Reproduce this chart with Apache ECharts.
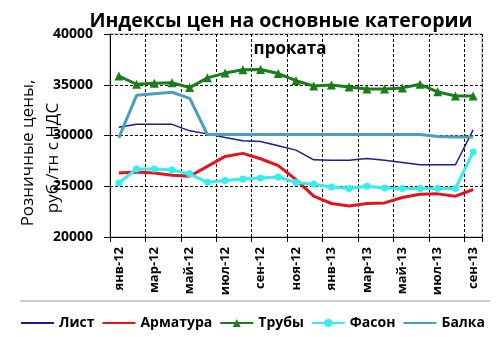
<!DOCTYPE html>
<html>
<head>
<meta charset="utf-8">
<script src="https://cdn.jsdelivr.net/npm/echarts@6/dist/echarts.min.js"></script>
<style>
  html, body { margin: 0; padding: 0; background: #fff; }
  #chart { width: 500px; height: 337px; }
</style>
</head>
<body>
<div id="chart"></div>
<script>
// Months, Jan 2012 – Sep 2013
const months = ['янв-12','фев-12','мар-12','апр-12','май-12','июн-12','июл-12','авг-12','сен-12','окт-12','ноя-12','дек-12',
                'янв-13','фев-13','мар-13','апр-13','май-13','июн-13','июл-13','авг-13','сен-13'];

// Retail prices, rub/t incl. VAT
const list     = [30820,31100,31100,31100,30460,30160,29800,29480,29410,28990,28560,27600,27550,27550,27740,27560,27350,27120,27120,27120,30560];
const armatura = [26310,26410,26310,26080,25980,26960,27940,28240,27710,27030,25650,24020,23300,23060,23300,23360,23890,24220,24250,24020,24680];
const truby    = [35850,35050,35150,35200,34720,35680,36150,36470,36500,36100,35400,34880,34980,34780,34580,34580,34690,35040,34300,33900,33900];
const fason    = [25330,26700,26700,26600,26220,25390,25560,25720,25820,25900,25380,25200,24920,24770,24990,24830,24770,24770,24770,24770,28370];
const balka    = [29760,33960,34120,34260,33660,30100,30100,30100,30100,30100,30100,30100,30100,30100,30100,30100,30100,30100,29900,29840,29840];

const yTicks = { min: 20000, max: 40000, interval: 5000 };

const FONT = '"Open Sans", "Noto Sans", sans-serif';
const chart = echarts.init(document.getElementById('chart'), null, { renderer: 'canvas' });

const dashed = { color: '#000', width: 1, type: [3, 2] };
const hideSymbol = { opacity: 0 };

chart.setOption({
  animation: false,
  backgroundColor: '#fff',
  textStyle: { fontFamily: FONT },
  title: [
    { text: 'Индексы цен на основные категории', left: 276, top: 6, textAlign: 'center',
      textStyle: { fontFamily: FONT, fontSize: 19.5, fontWeight: 'bold', color: '#000' } },
    { text: 'проката', left: 285, top: 36, textAlign: 'center',
      textStyle: { fontFamily: FONT, fontSize: 17, fontWeight: 'bold', color: '#000' } }
  ],
  grid: { left: 110, right: 18, top: 34, bottom: 100, show: true, borderColor: '#999', borderWidth: 1, backgroundColor: 'transparent' },
  legend: {
    top: 311, left: 15, itemWidth: 33, itemHeight: 10, itemGap: 7,
    textStyle: { fontFamily: FONT, fontSize: 14, fontWeight: 'bold', color: '#000' },
    data: [
      { name: 'Лист', itemStyle: hideSymbol },
      { name: 'Арматура', itemStyle: hideSymbol },
      { name: 'Трубы' },
      { name: 'Фасон' },
      { name: 'Балка', itemStyle: hideSymbol }
    ]
  },
  xAxis: {
    type: 'category', data: months, boundaryGap: true,
    axisLine: { lineStyle: { color: '#000', width: 1 } },
    axisTick: { show: true, interval: 1, length: 5, lineStyle: { color: '#000' } },
    axisLabel: { interval: 1, rotate: 90, margin: 10, fontFamily: FONT, fontSize: 13, fontWeight: 'bold', color: '#000' },
    splitLine: { show: true, interval: 1, lineStyle: dashed }
  },
  yAxis: {
    type: 'value', min: yTicks.min, max: yTicks.max, interval: yTicks.interval,
    axisLine: { show: true, lineStyle: { color: '#000', width: 1 } },
    axisTick: { show: true, length: 6, lineStyle: { color: '#000' } },
    axisLabel: { margin: 17, fontFamily: FONT, fontSize: 14, fontWeight: 'bold', color: '#000',
                 formatter: v => String(v) },
    splitLine: { show: true, lineStyle: dashed }
  },
  graphic: [
    { type: 'text', x: 28, y: 153, rotation: Math.PI / 2,
      style: { text: 'Розничные цены,', fontFamily: FONT, fontSize: 17, fill: '#000', align: 'center', verticalAlign: 'middle' } },
    { type: 'text', x: 53, y: 158, rotation: Math.PI / 2,
      style: { text: 'руб./тн с НДС', fontFamily: FONT, fontSize: 17, fill: '#000', align: 'center', verticalAlign: 'middle' } },
    { type: 'line', shape: { x1: 20, y1: 301, x2: 490, y2: 301 }, style: { stroke: '#999', lineWidth: 1 } }
  ],
  series: [
    { name: 'Лист', type: 'line', data: list, symbol: 'none', lineStyle: { color: '#1a1a9a', width: 1.5 }, itemStyle: { color: '#1a1a9a' } },
    { name: 'Арматура', type: 'line', data: armatura, symbol: 'none', lineStyle: { color: '#e3141c', width: 3 }, itemStyle: { color: '#e3141c' } },
    { name: 'Трубы', type: 'line', data: truby, symbol: 'triangle', symbolSize: 9, lineStyle: { color: '#1a7d1a', width: 3 }, itemStyle: { color: '#1a7d1a' } },
    { name: 'Фасон', type: 'line', data: fason, symbol: 'circle', symbolSize: 7, lineStyle: { color: '#33eef0', width: 3 }, itemStyle: { color: '#33eef0' } },
    { name: 'Балка', type: 'line', data: balka, symbol: 'none', lineStyle: { color: '#4a9fc0', width: 3 }, itemStyle: { color: '#4a9fc0' } }
  ]
});
</script>
</body>
</html>
